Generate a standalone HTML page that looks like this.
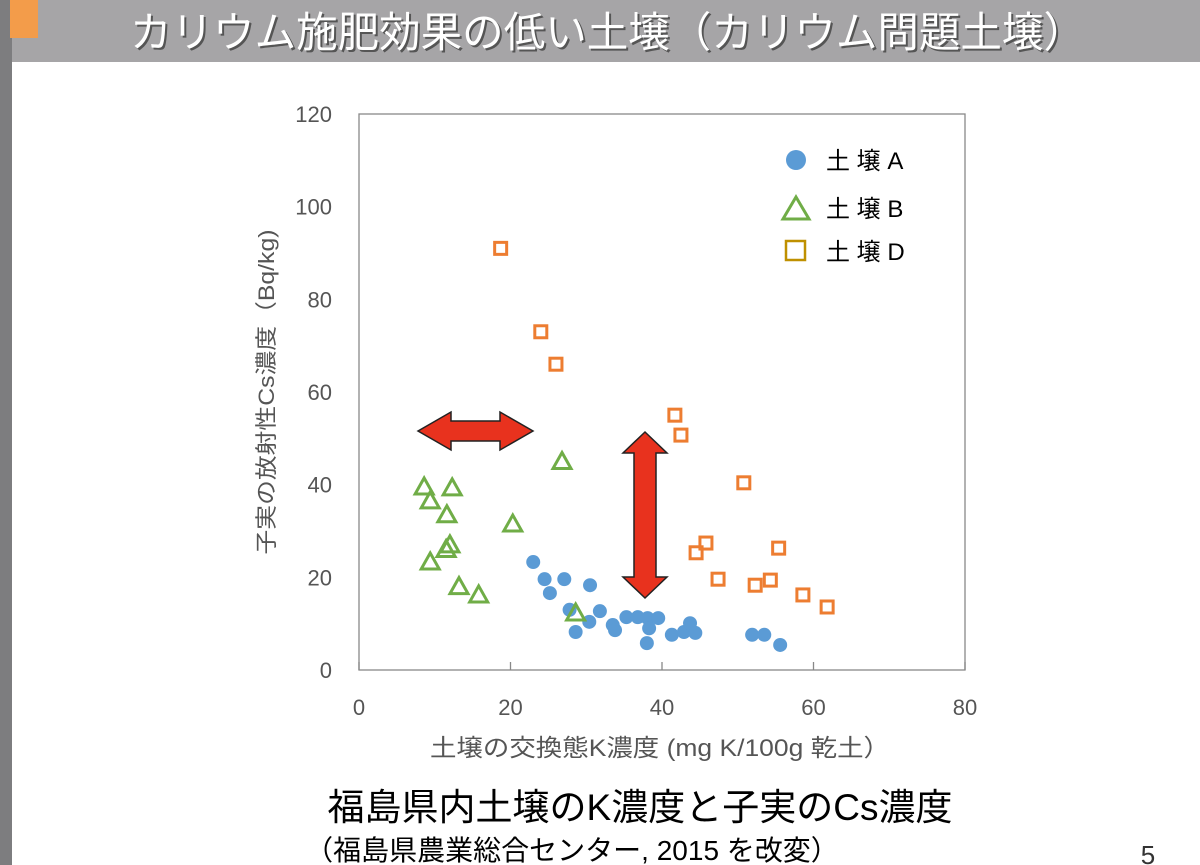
<!DOCTYPE html>
<html><head><meta charset="utf-8">
<style>
body{margin:0;width:1200px;height:865px;overflow:hidden;background:#fff;font-family:"Liberation Sans","Noto Sans CJK JP",sans-serif;}
</style></head><body>
<svg width="1200" height="865" style="position:absolute;left:0;top:0">
<rect x="0" y="0" width="1200" height="62" fill="#a6a5a7"/>
<rect x="0" y="0" width="12" height="865" fill="#7d7d7f"/>
<rect x="10" y="0" width="28" height="38" fill="#f39c4a"/>
<text x="130" y="47" font-size="42" fill="#555" textLength="955" lengthAdjust="spacingAndGlyphs" transform="translate(2,2)">カリウム施肥効果の低い土壌（カリウム問題土壌）</text>
<text x="130" y="47" font-size="42" fill="#fff" textLength="955" lengthAdjust="spacingAndGlyphs">カリウム施肥効果の低い土壌（カリウム問題土壌）</text>
<g id="chart"></g>
<text x="640" y="820" font-size="37" text-anchor="middle" fill="#000">福島県内土壌のK濃度と子実のCs濃度</text>
<text x="572" y="860" font-size="28" text-anchor="middle" fill="#000">（福島県農業総合センター, 2015 を改変）</text>
<text x="1148" y="864" font-size="26" text-anchor="middle" fill="#333">5</text>
</svg>
<script>
const xTicks=[0,20,40,60,80];
const yTicks=[0,20,40,60,80,100,120];
const soilAx=[23,24.5,25.2,27.1,27.8,28.6,30.5,30.4,31.8,33.5,33.8,35.3,36.8,38.1,38,38.3,39.5,41.3,42.9,43.7,44.4,51.9,53.5,55.6];
const soilAy=[23.3,19.6,16.6,19.6,13,8.2,18.3,10.4,12.7,9.7,8.6,11.4,11.4,11.2,5.8,9,11.2,7.6,8.2,10.1,8,7.6,7.6,5.4];
const soilBx=[8.6,9.4,12.3,11.6,12,11.5,9.4,13.2,15.8,20.3,26.8,28.6];
const soilBy=[39.5,36.5,39.3,33.5,27,26,23.3,18,16.2,31.5,45,12.3];
const soilDx=[18.7,24,26,41.7,42.5,50.8,44.5,45.8,47.4,55.4,52.3,54.3,58.6,61.8];
const soilDy=[91,73,66,55,50.7,40.4,25.3,27.4,19.6,26.3,18.3,19.4,16.2,13.6];
const L=359,R=965,T=114,B=670;
const sx=v=>L+(v-0)/80*(R-L);
const sy=v=>B-(v-0)/120*(B-T);
const NS="http://www.w3.org/2000/svg";
const g=document.getElementById('chart');
function mk(t,a,txt){const e=document.createElementNS(NS,t);for(const k in a)e.setAttribute(k,a[k]);if(txt!==undefined)e.textContent=txt;g.appendChild(e);return e;}
let e=mk('rect',{x:L,y:T,width:R-L,height:B-T,fill:'none',stroke:'#888','stroke-width':1.3});


xTicks.forEach(t=>{
 let l=mk('line',{x1:sx(t),x2:sx(t),y1:B,y2:B-8,stroke:'#888','stroke-width':1.3});
 
 
 let tx=mk('text',{x:sx(t),y:B+45,'font-size':22,'text-anchor':'middle',fill:'#555'},t);
 
 
});
yTicks.forEach(t=>{
 let tx=mk('text',{x:L-27,y:sy(t)+8,'font-size':22,'text-anchor':'end',fill:'#555'},t);
 
 
});
let xt=mk('text',{x:660,y:756,'font-size':24,'text-anchor':'middle',fill:'#555',textLength:460,lengthAdjust:'spacingAndGlyphs'},'土壌の交換態K濃度 (mg K/100g 乾土）');


let yt=mk('text',{x:0,y:0,'font-size':22,'text-anchor':'middle',fill:'#555',textLength:325,lengthAdjust:'spacingAndGlyphs',transform:'translate(274,392) rotate(-90)'},'子実の放射性Cs濃度（Bq/kg)');


let ah=mk('polygon',{points:'418,431 451,412 451,421 500,421 500,412 533,431 500,450 500,441 451,441 451,450',fill:'#e8321e',stroke:'#222','stroke-width':1.5});


let av=mk('polygon',{points:'645,432 667,453 656,453 656,577 667,577 645,598 623,577 634,577 634,453 623,453',fill:'#e8321e',stroke:'#222','stroke-width':1.5});


soilAx.forEach((x,i)=>{let c=mk('circle',{cx:sx(x),cy:sy(soilAy[i]),r:7,fill:'#5b9bd5'});

});
soilBx.forEach((x,i)=>{const cx=sx(x),cy=sy(soilBy[i]);let p=mk('polygon',{points:`${cx},${cy-9} ${cx+9},${cy+7} ${cx-9},${cy+7}`,fill:'none',stroke:'#70ad47','stroke-width':3});

});
soilDx.forEach((x,i)=>{const cx=sx(x),cy=sy(soilDy[i]);let r=mk('rect',{x:cx-6,y:cy-6,width:12,height:12,fill:'none',stroke:'#ed7d31','stroke-width':3});

});
let l1=mk('circle',{cx:796,cy:160,r:10,fill:'#5b9bd5'});


let l2=mk('polygon',{points:'796,197 809,219 783,219',fill:'none',stroke:'#70ad47','stroke-width':3});


let l3=mk('rect',{x:786,y:241,width:19,height:19,fill:'none',stroke:'#bf9000','stroke-width':2.5});


[['土 壌 A',169],['土 壌 B',217],['土 壌 D',260]].forEach(([t,y])=>{let tx=mk('text',{x:826,y:y,'font-size':24,fill:'#000'},t);

});
</script>
</body></html>
